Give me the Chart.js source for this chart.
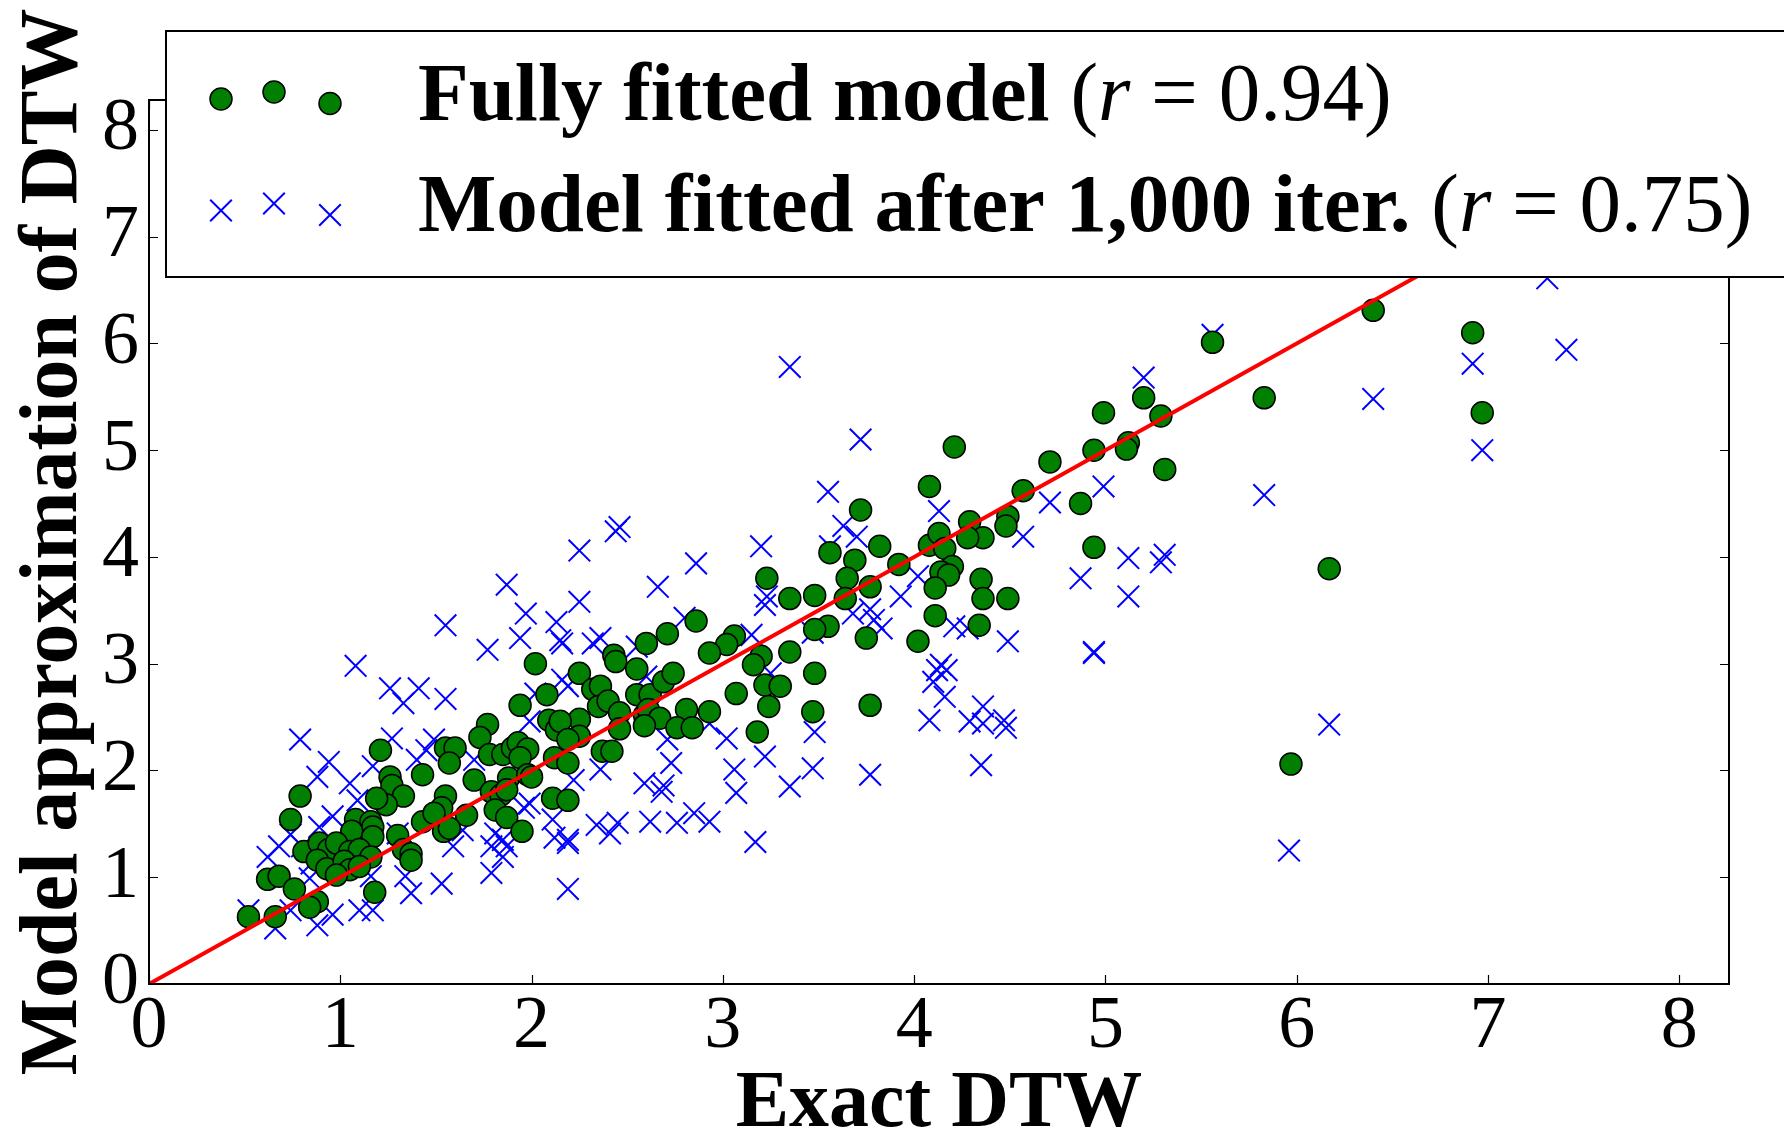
<!DOCTYPE html>
<html>
<head>
<meta charset="utf-8">
<script src="https://cdn.jsdelivr.net/npm/chart.js@4.4.1/dist/chart.umd.min.js"></script>
<style>
  html, body { margin: 0; padding: 0; background: #fff; }
  canvas { display: block; }
</style>
</head>
<body>
<canvas id="chart" width="1784" height="1139"></canvas>
<script>
// Values: x = exact DTW, y = model approximation
const fullX = [
  1.21,1.26,1.27,1.33,1.24,1.19,0.79,0.74,1.08,1.16,1.17,1.06,1.17,1.30,1.33,1.37,1.37,0.81,0.89,0.94,
  0.98,1.05,1.10,1.16,0.88,0.93,1.02,1.05,1.10,0.98,0.62,0.68,0.76,1.18,0.88,0.84,0.52,0.66,
  1.94,2.08,1.77,1.73,1.55,1.60,1.57,1.43,1.78,1.85,1.90,1.93,1.98,1.94,1.70,1.88,1.98,2.00,1.79,1.84,
  1.87,1.55,1.53,1.66,1.81,1.87,1.43,1.49,1.54,1.57,1.95,2.09,2.13,2.12,2.11,
  2.02,
  4.08,3.72,4.29,4.49,4.48,4.36,4.28,4.08,4.13,4.16,4.20,4.14,4.18,4.11,4.11,4.35,4.36,4.49,4.34,4.02,
  3.82,3.92,3.56,3.69,3.65,3.77,3.64,3.48,3.35,3.23,3.55,3.48,3.75,3.35,3.48,3.47,3.77,3.20,3.16,3.22,
  3.30,3.24,3.18,3.07,3.06,3.02,2.93,2.86,2.71,2.60,2.43,2.44,2.55,2.25,2.32,2.36,2.55,2.62,2.69,2.74,
  2.35,2.40,2.46,2.59,2.61,2.67,2.81,2.93,2.59,2.76,2.84,2.46,2.25,2.15,2.25,2.19,2.19,2.37,2.42,2.19,
  5.56,5.83,5.20,4.99,5.29,4.94,5.12,5.11,4.71,5.31,4.57,4.87,4.94,6.17,5.97,
  4.21,6.40,6.92,6.97
];
const fullY = [
  2.19,1.94,1.86,1.76,1.68,1.74,1.76,1.54,1.54,1.52,1.47,1.43,1.38,1.39,1.26,1.22,1.16,1.24,1.32,1.26,
  1.32,1.24,1.26,1.19,1.16,1.08,1.15,1.07,1.10,1.02,0.98,1.01,0.89,0.86,0.77,0.72,0.63,0.63,
  2.61,2.71,2.43,2.31,2.21,2.21,2.07,1.96,2.15,2.15,2.21,2.26,2.20,2.12,1.91,1.93,1.96,1.94,1.80,1.77,
  1.82,1.76,1.65,1.58,1.63,1.56,1.52,1.60,1.43,1.46,1.43,2.47,2.38,2.12,1.74,
  3.00,
  4.66,4.44,4.33,4.38,4.29,4.18,4.18,4.11,4.22,4.08,3.91,3.86,3.83,3.71,3.45,3.79,3.61,3.61,3.36,3.21,
  4.10,3.93,4.04,3.97,3.80,3.72,3.61,3.64,3.61,3.80,3.35,3.32,3.24,3.11,2.91,2.55,2.61,3.07,2.99,2.80,
  2.79,2.60,2.36,2.72,3.26,3.18,3.10,3.40,3.28,3.19,3.08,3.02,2.95,2.91,2.76,2.79,2.71,2.71,2.83,2.91,
  2.60,2.65,2.54,2.52,2.57,2.49,2.57,2.55,2.42,2.40,2.40,2.39,2.48,2.46,2.32,2.29,2.07,2.18,2.18,1.72,
  6.01,5.49,5.49,5.35,5.32,5.00,5.07,5.01,4.89,4.82,4.62,4.50,4.09,3.89,2.06,
  5.03,6.31,6.10,5.35
];
const iterX = [
  1.08,1.26,1.41,2.46,2.44,2.25,1.87,1.55,1.97,2.25,2.13,1.94,1.77,2.15,2.16,2.32,2.36,2.55,2.16,
  3.72,3.55,3.63,3.20,2.86,2.66,2.80,3.22,3.23,3.15,3.56,3.47,3.68,3.77,3.79,3.70,2.60,3.25,3.35,
  4.13,4.02,3.93,3.83,4.21,4.28,4.12,4.14,4.17,4.10,4.16,4.08,4.29,4.36,4.36,4.47,4.48,4.35,3.77,3.48,
  3.47,3.35,3.22,3.07,3.06,3.02,3.17,2.93,2.85,2.76,2.62,2.45,2.41,2.34,2.19,2.69,2.73,2.59,2.68,2.36,
  2.22,2.71,2.93,
  5.20,6.40,4.99,4.71,5.83,4.57,5.12,5.31,5.29,4.87,5.12,4.49,4.94,4.94,6.17,5.56,5.96,
  6.92,6.97,7.41,7.31,
  1.55,1.49,1.70,2.02,1.99,2.19,1.99,1.96,1.81,1.85,1.87,1.79,1.85,2.11,2.12,2.19,1.59,1.53,1.79,2.19,
  1.64,1.45,
  1.33,0.79,1.27,0.94,0.88,1.05,1.17,1.40,1.09,0.96,0.89,0.74,0.62,0.68,0.85,1.30,1.34,1.37,1.16,0.96,
  0.88,1.10,1.17,0.74,0.66,0.52,0.84,0.80
];
const iterY = [
  2.98,2.77,2.77,4.28,4.24,4.06,3.74,3.36,3.47,3.58,3.39,3.24,3.13,3.22,3.19,3.19,3.24,3.16,2.85,
  5.10,4.61,4.29,4.10,3.94,3.72,3.43,3.55,3.63,3.27,4.10,3.29,3.47,3.51,3.41,4.19,2.88,2.91,5.78,
  4.43,3.82,3.63,3.33,3.35,3.33,2.94,2.99,2.94,2.83,2.69,2.47,2.46,2.60,2.44,2.47,2.40,2.05,1.96,2.36,
  2.02,1.85,2.13,1.79,2.01,2.30,1.33,1.52,1.60,1.51,1.52,1.51,1.41,1.49,1.35,1.86,2.07,1.88,1.80,2.01,
  1.91,2.29,2.44,
  5.68,5.48,4.66,4.51,4.58,4.19,3.99,4.02,3.95,3.80,3.63,3.21,3.11,3.10,2.43,6.08,1.25,
  5.81,5.00,5.94,6.61,
  2.67,2.29,2.10,2.72,2.46,2.79,1.69,1.65,1.41,1.35,1.29,1.29,1.19,1.54,1.37,1.32,1.29,0.94,1.04,0.89,
  1.44,2.19,
  2.63,2.29,2.30,2.08,1.94,1.88,2.04,2.10,1.72,1.57,1.47,1.40,1.19,1.29,1.13,1.41,1.01,0.85,1.01,0.65,
  0.55,0.69,0.69,0.69,0.52,0.69,0.99,1.29
];
const identity = [0, 8.26];           // y = x reference line
const xTicks = [0, 1, 2, 3, 4, 5, 6, 7, 8];
const yTicks = [0, 1, 2, 3, 4, 5, 6, 7, 8];
const legendText = ['Fully fitted model ', 'Model fitted after 1,000 iter. '];
const legendR = ['0.94', '0.75'];

const SERIF = '"Liberation Serif", "DejaVu Serif", serif';
const GREEN = '#007f00';
const BLUE = '#0000ff';

function toPoints(xs, ys) {
  return xs.map((x, i) => ({ x: x, y: ys[i] }));
}

// Helper: small circle / cross like the matplotlib markers (legend only)
function legendCircle(ctx, x, y) {
  ctx.beginPath();
  ctx.arc(x, y, 11, 0, Math.PI * 2);
  ctx.fillStyle = GREEN;
  ctx.fill();
  ctx.lineWidth = 1.5;
  ctx.strokeStyle = '#000';
  ctx.stroke();
}
function legendCross(ctx, x, y) {
  const h = 10.8;
  ctx.beginPath();
  ctx.moveTo(x - h, y - h); ctx.lineTo(x + h, y + h);
  ctx.moveTo(x - h, y + h); ctx.lineTo(x + h, y - h);
  ctx.lineWidth = 2;
  ctx.strokeStyle = BLUE;
  ctx.stroke();
}

// Text made of bold words then a math part "(r = value)"
function legendLabel(ctx, x, y, words, r) {
  const parts = [
    { t: words, f: 'bold 83px ' + SERIF },
    { t: '(', f: '83px ' + SERIF },
    { t: 'r', f: 'italic 83px ' + SERIF },
    { t: ' = ' + r + ')', f: '83px ' + SERIF }
  ];
  ctx.fillStyle = '#000';
  ctx.textBaseline = 'alphabetic';
  ctx.textAlign = 'left';
  parts.forEach(p => {
    ctx.font = p.f;
    ctx.fillText(p.t, x, y);
    x += ctx.measureText(p.t).width;
  });
}

const framePlugin = {
  id: 'frame',
  afterDatasetsDraw(chart) {
    const ctx = chart.ctx;
    const a = chart.chartArea;
    const xs = chart.scales.x, ys = chart.scales.y;
    ctx.save();
    ctx.strokeStyle = '#000';
    // inward ticks on all four sides
    ctx.lineWidth = 1.2;
    ctx.beginPath();
    xTicks.forEach(v => {
      const px = Math.round(xs.getPixelForValue(v)) + 0.5;
      ctx.moveTo(px, a.bottom); ctx.lineTo(px, a.bottom - 9);
      ctx.moveTo(px, a.top); ctx.lineTo(px, a.top + 9);
    });
    yTicks.forEach(v => {
      const py = Math.round(ys.getPixelForValue(v)) + 0.5;
      ctx.moveTo(a.left, py); ctx.lineTo(a.left + 9, py);
      ctx.moveTo(a.right, py); ctx.lineTo(a.right - 9, py);
    });
    ctx.stroke();
    ctx.lineWidth = 2;
    ctx.strokeRect(a.left, a.top, a.right - a.left, a.bottom - a.top);
    ctx.restore();
  },
  afterDraw(chart) {
    const ctx = chart.ctx;
    ctx.save();
    // legend box sticks out past the right edge, as in the figure
    ctx.fillStyle = '#fff';
    ctx.fillRect(166, 31, 1660, 246);
    ctx.strokeStyle = '#000';
    ctx.lineWidth = 2;
    ctx.strokeRect(166, 31, 1660, 246);

    legendCircle(ctx, 221, 99);
    legendCircle(ctx, 274, 92);
    legendCircle(ctx, 330, 103.5);
    legendCross(ctx, 221, 210.5);
    legendCross(ctx, 274, 203.5);
    legendCross(ctx, 330, 215);

    legendLabel(ctx, 418, 119.5, legendText[0], legendR[0]);
    legendLabel(ctx, 418, 231, legendText[1], legendR[1]);
    ctx.restore();
  }
};

new Chart(document.getElementById('chart'), {
  type: 'scatter',
  data: {
    datasets: [
      {
        label: 'y = x',
        data: toPoints(identity, identity),
        showLine: true,
        borderColor: '#ff0000',
        borderWidth: 4,
        pointRadius: 0,
        order: 0
      },
      {
        label: 'Fully fitted model',
        data: toPoints(fullX, fullY),
        pointStyle: 'circle',
        pointRadius: 11,
        backgroundColor: GREEN,
        borderColor: '#000',
        borderWidth: 1.5,
        order: 1
      },
      {
        label: 'Model fitted after 1,000 iter.',
        data: toPoints(iterX, iterY),
        pointStyle: 'crossRot',
        pointRadius: 15.3,
        borderColor: BLUE,
        backgroundColor: BLUE,
        borderWidth: 2,
        order: 2
      }
    ]
  },
  options: {
    responsive: false,
    devicePixelRatio: 1,
    animation: false,
    events: [],
    layout: { padding: { top: 100, right: 55, left: 0, bottom: 0 } },
    plugins: { legend: { display: false }, tooltip: { enabled: false } },
    scales: {
      x: {
        type: 'linear',
        min: 0,
        max: 8.26,
        grid: { display: false, drawTicks: false },
        border: { display: false },
        ticks: {
          stepSize: 1, includeBounds: false, autoSkip: false, maxRotation: 0,
          color: '#000', padding: 7,
          font: { family: SERIF, size: 74, lineHeight: 1 }
        },
        title: {
          display: true, text: 'Exact DTW', color: '#000', padding: 0,
          font: { family: SERIF, size: 80, weight: 'bold', lineHeight: 0.85 }
        },
        afterFit(scale) { scale.height = 155; }
      },
      y: {
        type: 'linear',
        min: 0,
        max: 8.28,
        grid: { display: false, drawTicks: false },
        border: { display: false },
        ticks: {
          stepSize: 1, includeBounds: false, autoSkip: false,
          color: '#000', padding: 10,
          font: { family: SERIF, size: 74, lineHeight: 1 }
        },
        title: {
          display: true, text: 'Model approximation of DTW', color: '#000',
          padding: { top: 14, bottom: 0 },
          font: { family: SERIF, size: 82, weight: 'bold', lineHeight: 1 }
        },
        afterFit(scale) { scale.width = 149; }
      }
    }
  },
  plugins: [framePlugin]
});
</script>
</body>
</html>
